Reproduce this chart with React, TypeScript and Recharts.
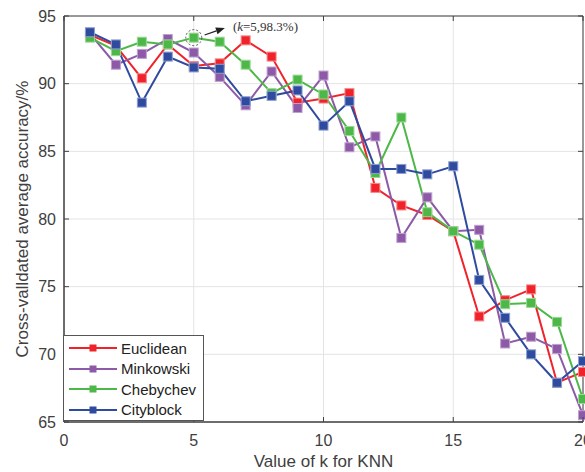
import {
  LineChart, Line, XAxis, YAxis, CartesianGrid, Legend,
  ReferenceArea, ReferenceDot, ReferenceLine
} from "recharts";

const K_VALUES = [1, 2, 3, 4, 5, 6, 7, 8, 9, 10, 11, 12, 13, 14, 15, 16, 17, 18, 19, 20];
const EUCLIDEAN = [93.6, 92.8, 90.4, 92.9, 91.3, 91.5, 93.2, 92.0, 88.6, 88.9, 89.3, 82.3, 81.0, 80.3, 79.1, 72.8, 74.0, 74.8, 67.9, 68.7];
const MINKOWSKI = [93.7, 91.4, 92.2, 93.3, 92.3, 90.5, 88.4, 90.9, 88.2, 90.6, 85.3, 86.1, 78.6, 81.6, 79.1, 79.2, 70.8, 71.3, 70.4, 65.5];
const CHEBYCHEV = [93.4, 92.4, 93.1, 92.9, 93.4, 93.1, 91.4, 89.3, 90.3, 89.2, 86.5, 83.4, 87.5, 80.5, 79.1, 78.1, 73.7, 73.8, 72.4, 66.7];
const CITYBLOCK = [93.8, 92.9, 88.6, 92.0, 91.2, 91.1, 88.7, 89.1, 89.5, 86.9, 88.7, 83.7, 83.7, 83.3, 83.9, 75.5, 72.7, 70.0, 67.9, 69.5];

const X_TICKS = [0, 5, 10, 15, 20];
const Y_TICKS = [65, 70, 75, 80, 85, 90, 95];

const BEST_K = 5;
const BEST_VALUE = CHEBYCHEV[BEST_K - 1];

const SERIES = [
  { key: "euclidean", name: "Euclidean", color: "#f0222a", edge: "#f58a8c" },
  { key: "minkowski", name: "Minkowski", color: "#8d5aa7", edge: "#c0a0cf" },
  { key: "chebychev", name: "Chebychev", color: "#4db848", edge: "#9bd897" },
  { key: "cityblock", name: "Cityblock", color: "#2f4b9f", edge: "#8d9ed0" },
];

const data = K_VALUES.map((k, i) => ({
  k,
  euclidean: EUCLIDEAN[i],
  minkowski: MINKOWSKI[i],
  chebychev: CHEBYCHEV[i],
  cityblock: CITYBLOCK[i],
}));

const W = 585;
const H = 472;
const TOP = 16;
const BOTTOM = 422;
const LEFT = 64;
const RIGHT = 583;
const INK = "#404040";
const FONT = "'Liberation Sans', Arial, sans-serif";

function XTick({ x, payload }: any) {
  return (
    <g>
      <line x1={x} y1={BOTTOM} x2={x} y2={BOTTOM - 5} stroke={INK} />
      <line x1={x} y1={TOP} x2={x} y2={TOP + 5} stroke={INK} />
      <text x={x} y={446} textAnchor="middle" fill={INK} fontSize={16} fontFamily={FONT}>
        {payload.value}
      </text>
    </g>
  );
}

function YTick({ y, payload }: any) {
  return (
    <g>
      <line x1={LEFT} y1={y} x2={LEFT + 5} y2={y} stroke={INK} />
      <line x1={RIGHT} y1={y} x2={RIGHT - 5} y2={y} stroke={INK} />
      <text x={56} y={y + 5.5} textAnchor="end" fill={INK} fontSize={16} fontFamily={FONT}>
        {payload.value}
      </text>
    </g>
  );
}

function squareDot(color: string, edge: string) {
  return (p: any) => (
    <rect
      key={`d-${p.index}`}
      x={p.cx - 4.5}
      y={p.cy - 4.5}
      width={9}
      height={9}
      fill={color}
      stroke={edge}
      strokeWidth={1}
    />
  );
}

function LegendBox() {
  return (
    <div
      style={{
        width: 141,
        height: 86,
        border: "1px solid #555",
        background: "#fff",
        boxSizing: "border-box",
        paddingTop: 2,
        fontFamily: FONT,
        fontSize: 15,
        color: "#222",
      }}
    >
      {SERIES.map(s => (
        <div key={s.key} style={{ display: "flex", alignItems: "center", height: 20.5 }}>
          <svg width={56} height={12} style={{ marginLeft: 5 }}>
            <line x1={0} y1={6} x2={48} y2={6} stroke={s.color} strokeWidth={2} />
            <rect x={20.5} y={2.5} width={7} height={7} fill={s.color} />
          </svg>
          <span style={{ marginLeft: -4 }}>{s.name}</span>
        </div>
      ))}
    </div>
  );
}

function Arrow(p: any) {
  const { x1, y1, x2, y2 } = p;
  const ang = Math.atan2(y2 - y1, x2 - x1);
  const L = 9;
  const hw = 3.5;
  const bx = x2 - L * Math.cos(ang);
  const by = y2 - L * Math.sin(ang);
  const px = -Math.sin(ang) * hw;
  const py = Math.cos(ang) * hw;
  return (
    <g>
      <line x1={x1} y1={y1} x2={bx} y2={by} stroke="#222" strokeWidth={1.2} />
      <polygon points={`${x2},${y2} ${bx + px},${by + py} ${bx - px},${by - py}`} fill="#222" />
      <text x={x2 + 8} y={y2 + 3} fontFamily="'Liberation Serif', 'Times New Roman', serif" fontSize={13} fill="#333">
        (<tspan fontStyle="italic">k</tspan>=5,98.3%)
      </text>
    </g>
  );
}

export default function App() {
  return (
    <div style={{ position: "absolute", left: 0, top: 0, background: "#fff" }}>
      <LineChart width={W} height={H} data={data} margin={{ top: TOP, right: W - RIGHT, left: 0, bottom: 0 }}>
        <CartesianGrid stroke="#e4e4e4" strokeWidth={1} />
        <XAxis
          dataKey="k"
          type="number"
          domain={[0, 20]}
          ticks={X_TICKS}
          height={H - BOTTOM}
          tickSize={0}
          tickLine={false}
          axisLine={{ stroke: INK }}
          tick={<XTick />}
          interval={0}
          label={{ value: "Value of k for KNN", position: "insideBottom", offset: 5, fill: INK, fontSize: 17, fontFamily: FONT }}
        />
        <YAxis
          type="number"
          domain={[65, 95]}
          ticks={Y_TICKS}
          width={LEFT}
          tickSize={0}
          tickLine={false}
          axisLine={{ stroke: INK }}
          tick={<YTick />}
          interval={0}
          label={{
            value: "Cross-valldated average accuracy/%",
            angle: -90,
            position: "insideLeft",
            offset: 22,
            fill: INK,
            fontSize: 17,
            fontFamily: FONT,
            style: { textAnchor: "middle" },
          }}
        />
        <ReferenceArea x1={0} x2={20} y1={65} y2={95} fill="none" stroke={INK} strokeWidth={1} />
        {SERIES.map(s => (
          <Line
            key={s.key}
            dataKey={s.key}
            name={s.name}
            stroke={s.color}
            strokeWidth={2}
            dot={squareDot(s.color, s.edge)}
            activeDot={false}
            isAnimationActive={false}
          />
        ))}
        <ReferenceDot
          x={BEST_K}
          y={BEST_VALUE}
          r={8}
          fill="none"
          stroke="#555"
          strokeDasharray="2 2"
        />
        <ReferenceLine
          segment={[{ x: BEST_K + 0.42, y: BEST_VALUE + 0.2 }, { x: BEST_K + 1.2, y: BEST_VALUE + 0.72 }]}
          shape={<Arrow />}
        />
        <Legend
          layout="vertical"
          align="center"
          verticalAlign="middle"
          content={<LegendBox />}
          wrapperStyle={{ left: 63, top: 335, width: 141, height: 86 }}
        />
      </LineChart>
    </div>
  );
}
